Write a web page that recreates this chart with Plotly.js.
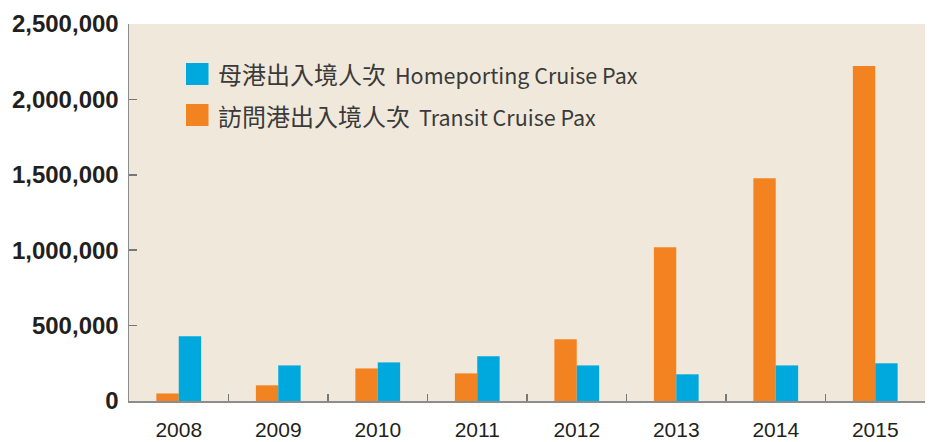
<!DOCTYPE html>
<html>
<head>
<meta charset="utf-8">
<script src="https://cdn.plot.ly/plotly-3.0.1.min.js"></script>
<style>html,body{margin:0;padding:0;background:#fff;}#chart{width:930px;height:442px;}</style>
</head>
<body>
<div id="chart"></div>
<script>
const years = ['2008','2009','2010','2011','2012','2013','2014','2015'];
const transitPax = [50000, 104000, 216000, 183000, 409000, 1019000, 1477000, 2221000];
const homeportingPax = [430000, 236000, 256000, 296000, 236000, 177000, 236000, 250000];
const yTickVals = [0, 500000, 1000000, 1500000, 2000000, 2500000];
const yTickText = ['0', '500,000', '1,000,000', '1,500,000', '2,000,000', '2,500,000'];
const homeLabelZh = '母港出入境人次';
const homeLabelEn = 'Homeporting Cruise Pax';
const transitLabelZh = '訪問港出入境人次';
const transitLabelEn = 'Transit Cruise Pax';

const orange = '#F38321';
const blue = '#00A9DD';

const traces = [
  {type: 'bar', x: years, y: transitPax, name: transitLabelZh + ' ' + transitLabelEn, marker: {color: orange}},
  {type: 'bar', x: years, y: homeportingPax, name: homeLabelZh + ' ' + homeLabelEn, marker: {color: blue}}
];

// plot area in px: left 129, right 925, top 24, bottom 401
const L = 129, R = 925, T = 24, B = 401;
const px = v => (v - L) / (R - L);
const py = v => (B - v) / (B - T);

function legendText(zh, en) {
  return '<span style="font-size:24px">' + zh + '</span>&nbsp; <span style="font-size:21.5px">' + en + '</span>';
}

const layout = {
  width: 930, height: 442,
  margin: {l: L, r: 930 - R, t: T, b: 442 - B},
  paper_bgcolor: '#ffffff',
  plot_bgcolor: '#F0E9DB',
  showlegend: false,
  barmode: 'group',
  bargap: 0.55,
  bargroupgap: 0,
  xaxis: {
    type: 'category',
    showgrid: false,
    showline: true, linecolor: '#8c8c8c', linewidth: 1.5,
    ticks: 'inside', tickson: 'boundaries', ticklen: 7, tickcolor: '#777', tickwidth: 1.5,
    tickfont: {family: 'Liberation Sans, Arial, sans-serif', size: 21, color: '#231f20'},
    ticklabelstandoff: 9,
    zeroline: false
  },
  yaxis: {
    range: [0, 2500000],
    tickvals: yTickVals, ticktext: yTickText,
    showgrid: false, zeroline: false,
    showline: true, linecolor: '#8c8c8c', linewidth: 1.5,
    ticks: 'inside', ticklen: 8, tickcolor: '#777', tickwidth: 1.5,
    tickfont: {family: 'Liberation Sans, Arial, sans-serif', size: 24, color: '#231f20', weight: 'bold'},
    ticklabelstandoff: 4
  },
  shapes: [
    {type: 'rect', xref: 'paper', yref: 'paper', x0: px(186), x1: px(208.5), y0: py(85), y1: py(63), fillcolor: blue, line: {width: 0}},
    {type: 'rect', xref: 'paper', yref: 'paper', x0: px(186), x1: px(208.5), y0: py(126), y1: py(104), fillcolor: orange, line: {width: 0}}
  ],
  annotations: [
    {xref: 'paper', yref: 'paper', x: px(216), y: py(74), xanchor: 'left', yanchor: 'middle', showarrow: false,
     text: legendText(homeLabelZh, homeLabelEn), font: {family: 'Noto Sans CJK TC, Noto Sans, sans-serif', size: 20, color: '#3a3a3a'}},
    {xref: 'paper', yref: 'paper', x: px(216), y: py(115), xanchor: 'left', yanchor: 'middle', showarrow: false,
     text: legendText(transitLabelZh, transitLabelEn), font: {family: 'Noto Sans CJK TC, Noto Sans, sans-serif', size: 20, color: '#3a3a3a'}}
  ]
};

Plotly.newPlot('chart', traces, layout, {displayModeBar: false, staticPlot: true});
</script>
</body>
</html>
